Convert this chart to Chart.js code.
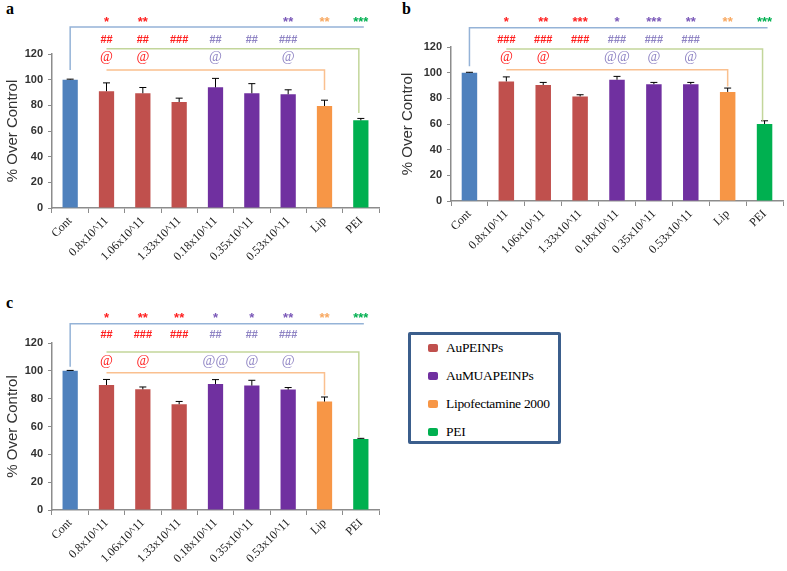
<!DOCTYPE html>
<html>
<head>
<meta charset="utf-8">
<script src="https://cdn.jsdelivr.net/npm/chart.js@4"></script>
<style>
  body { margin: 0; background: #fff; width: 787px; height: 571px; position: relative; overflow: hidden; }
  .panel { position: absolute; }
  .letter { position: absolute; font: bold 16px "Liberation Serif", serif; color: #000; }
  #legend { position: absolute; left: 408px; top: 332px; width: 147px; height: 106px;
            border: 3px solid #3b5e8c; border-radius: 2px; font: 13.5px "Liberation Serif", serif; color: #000; }
  .item { position: absolute; left: 17px; height: 16px; line-height: 16px; white-space: nowrap; letter-spacing: -0.3px; }
  .sw { display: inline-block; width: 10px; height: 8px; border-radius: 2px; margin-right: 8px; vertical-align: 0px; }
</style>
</head>
<body>
<div class="letter" style="left:6px;top:0px">a</div>
<div class="letter" style="left:402px;top:0px">b</div>
<div class="letter" style="left:6px;top:294px">c</div>
<div class="panel" style="left:0;top:0;width:390px;height:290px"><canvas id="chartA"></canvas></div>
<div class="panel" style="left:395px;top:0;width:392px;height:290px"><canvas id="chartB"></canvas></div>
<div class="panel" style="left:0;top:290px;width:390px;height:281px"><canvas id="chartC"></canvas></div>
<div id="legend"></div>
<script>
// categories on the x axis
const categories = ["Cont", "0.8x10^11", "1.06x10^11", "1.33x10^11", "0.18x10^11", "0.35x10^11", "0.53x10^11", "Lip", "PEI"];

// panel a
const valuesA = [100, 91, 89.4, 82.6, 94, 89.4, 88.6, 79.5, 68.3];
const errorsA = [0.4, 6.5, 4.5, 3, 7, 7.5, 3.5, 4.5, 1.5];
const starsA = ["", "*", "**", "", "", "", "**", "**", "***"];
const hashA = ["", "##", "##", "###", "##", "##", "###", "", ""];
const atA = ["", "@", "@", "", "@", "", "@", "", ""];

// panel b
const valuesB = [100, 93.2, 90.4, 81.5, 94.5, 91, 91, 85, 60];
const errorsB = [0.3, 3.5, 2, 1.3, 2.6, 1.4, 1.4, 3, 2.5];
const starsB = ["", "*", "**", "***", "*", "***", "**", "**", "***"];
const hashB = ["", "###", "###", "###", "###", "###", "###", "", ""];
const atB = ["", "@", "@", "", "@@", "@", "@", "", ""];

// panel c
const valuesC = [100, 89.8, 86.7, 76, 90.5, 89.4, 86.5, 77.9, 51];
const errorsC = [0.3, 4, 1.7, 2, 3.2, 3.8, 1.5, 3.3, 0.5];
const starsC = ["", "*", "**", "**", "*", "*", "**", "**", "***"];
const hashC = ["", "##", "###", "###", "##", "##", "###", "", ""];
const atC = ["", "@", "@", "", "@@", "@", "@", "", ""];

// y axis ticks
const yMin = 0, yMax = 120, yStep = 20;

// legend
const legendLabels = ["AuPEINPs", "AuMUAPEINPs", "Lipofectamine 2000", "PEI"];
const legendColors = ["#c0504d", "#7030a0", "#f79646", "#00b050"];

const barColors = ["#4f81bd", "#c0504d", "#c0504d", "#c0504d", "#7030a0", "#7030a0", "#7030a0", "#f79646", "#00b050"];
const starColors = ["", "#ff2020", "#ff2020", "#ff2020", "#7a58b8", "#7a58b8", "#7a58b8", "#f8a860", "#00b050"];
const markColors = ["", "#ff2020", "#ff2020", "#ff2020", "#8f84c4", "#8f84c4", "#8f84c4", "", ""];

// draw the upper half of the error bars
const errorBars = {
  id: "errorBars",
  afterDatasetsDraw(chart) {
    const ctx = chart.ctx;
    const y = chart.scales.y;
    const ds = chart.data.datasets[0];
    const meta = chart.getDatasetMeta(0);
    ctx.save();
    ctx.strokeStyle = "#000";
    ctx.lineWidth = 1;
    meta.data.forEach((bar, i) => {
      const top = y.getPixelForValue(ds.data[i] + ds.errors[i]);
      ctx.beginPath();
      ctx.moveTo(bar.x, bar.y);
      ctx.lineTo(bar.x, top);
      ctx.moveTo(bar.x - 3.5, top);
      ctx.lineTo(bar.x + 3.5, top);
      ctx.stroke();
    });
    ctx.restore();
  }
};

// significance marks and brackets above the bars
const sigMarks = {
  id: "sigMarks",
  afterDraw(chart) {
    const a = chart.options.plugins.sigMarks;
    const ctx = chart.ctx;
    const x = chart.scales.x, y = chart.scales.y;
    const px = (i) => x.getPixelForValue(i);
    const py = (v) => y.getPixelForValue(v);
    ctx.save();
    ctx.lineWidth = 1.5;
    // blue bracket from Cont
    ctx.strokeStyle = "#95b3d7";
    ctx.beginPath();
    ctx.moveTo(px(0), py(a.blueBottom));
    ctx.lineTo(px(0), py(a.blue));
    ctx.lineTo(px(8) + 3, py(a.blue));
    ctx.stroke();
    // green bracket to PEI
    ctx.strokeStyle = "#c3d69b";
    ctx.beginPath();
    ctx.moveTo(px(1), py(a.green));
    ctx.lineTo(px(8) - 2, py(a.green));
    ctx.lineTo(px(8) - 2, py(a.greenBottom));
    ctx.stroke();
    // orange bracket to Lip
    ctx.strokeStyle = "#fac08f";
    ctx.beginPath();
    ctx.moveTo(px(1), py(a.orange));
    ctx.lineTo(px(7), py(a.orange));
    ctx.lineTo(px(7), py(a.orangeBottom));
    ctx.stroke();

    const put = (txt, cx, cy, font, color) => {
      if (!txt) return;
      ctx.font = font;
      ctx.fillStyle = color;
      ctx.textAlign = "center";
      ctx.textBaseline = "alphabetic";
      const m = ctx.measureText(txt);
      ctx.fillText(txt, cx, cy + (m.actualBoundingBoxAscent - m.actualBoundingBoxDescent) / 2);
    };
    categories.forEach((c, i) => {
      put(a.stars[i], px(i), py(a.starY), "bold 13px 'Liberation Sans'", starColors[i]);
      put(a.hash[i], px(i), py(a.hashY), "bold 11px 'Liberation Sans'", markColors[i]);
      put(a.at[i], px(i), py(a.atY), "14px 'Liberation Serif'", markColors[i]);
    });
    ctx.restore();
  }
};

function makePanel(id, values, errors, marks, box) {
  const ctx = document.getElementById(id).getContext("2d");
  return new Chart(ctx, {
    type: "bar",
    data: {
      labels: categories,
      datasets: [{
        data: values,
        errors: errors,
        backgroundColor: barColors,
        borderWidth: 0,
        barPercentage: 0.42,
        categoryPercentage: 1
      }]
    },
    options: {
      responsive: true,
      maintainAspectRatio: false,
      animation: false,
      layout: { padding: { left: 0, top: box.top, right: box.right, bottom: 0 } },
      plugins: {
        legend: { display: false },
        tooltip: { enabled: false },
        sigMarks: marks
      },
      scales: {
        x: {
          afterFit: (s) => { s.height = box.xHeight; },
          grid: { display: true, drawOnChartArea: false, offset: true, tickLength: 5, color: "#8c8c8c" },
          border: { color: "#8c8c8c", width: 1.5 },
          ticks: { minRotation: 45, maxRotation: 45, padding: 1, color: "#222",
                   font: { family: "Liberation Serif", size: 12 } }
        },
        y: {
          min: yMin, max: yMax,
          afterFit: (s) => { s.width = box.left; },
          grid: { display: true, drawOnChartArea: false, tickLength: 4, color: "#8c8c8c" },
          border: { color: "#8c8c8c", width: 1.5 },
          ticks: { stepSize: yStep, padding: 5, color: "#333",
                   font: { family: "Liberation Sans", size: 11, weight: "bold" } },
          title: { display: true, text: "% Over Control", color: "#333",
                   padding: { top: 4, bottom: 0 },
                   font: { family: "Liberation Sans", size: 15 } }
        }
      }
    },
    plugins: [errorBars, sigMarks]
  });
}

makePanel("chartA", valuesA, errorsA,
  { stars: starsA, hash: hashA, at: atA,
    starY: 146.5, hashY: 131.7, atY: 117, blue: 141, blueBottom: 107.5,
    green: 124, greenBottom: 74, orange: 107.5, orangeBottom: 92 },
  { left: 52, top: 54, right: 11, xHeight: 82 });

makePanel("chartB", valuesB, errorsB,
  { stars: starsB, hash: hashB, at: atB,
    starY: 141.4, hashY: 126, atY: 111.5, blue: 135, blueBottom: 105,
    green: 118.5, greenBottom: 62.5, orange: 102.3, orangeBottom: 89.3 },
  { left: 56, top: 47, right: 4, xHeight: 89 });

makePanel("chartC", valuesC, errorsC,
  { stars: starsC, hash: hashC, at: atC,
    starY: 139.8, hashY: 126.2, atY: 107, blue: 133.8, blueBottom: 103,
    green: 113.5, greenBottom: 52.5, orange: 98.7, orangeBottom: 82.4 },
  { left: 52, top: 53, right: 11, xHeight: 61 });

// legend box
const legend = document.getElementById("legend");
legendLabels.forEach((name, i) => {
  const item = document.createElement("div");
  item.className = "item";
  item.style.top = (5 + i * 28) + "px";
  item.innerHTML = `<span class="sw" style="background:${legendColors[i]}"></span>${name}`;
  legend.appendChild(item);
});
</script>
</body>
</html>
